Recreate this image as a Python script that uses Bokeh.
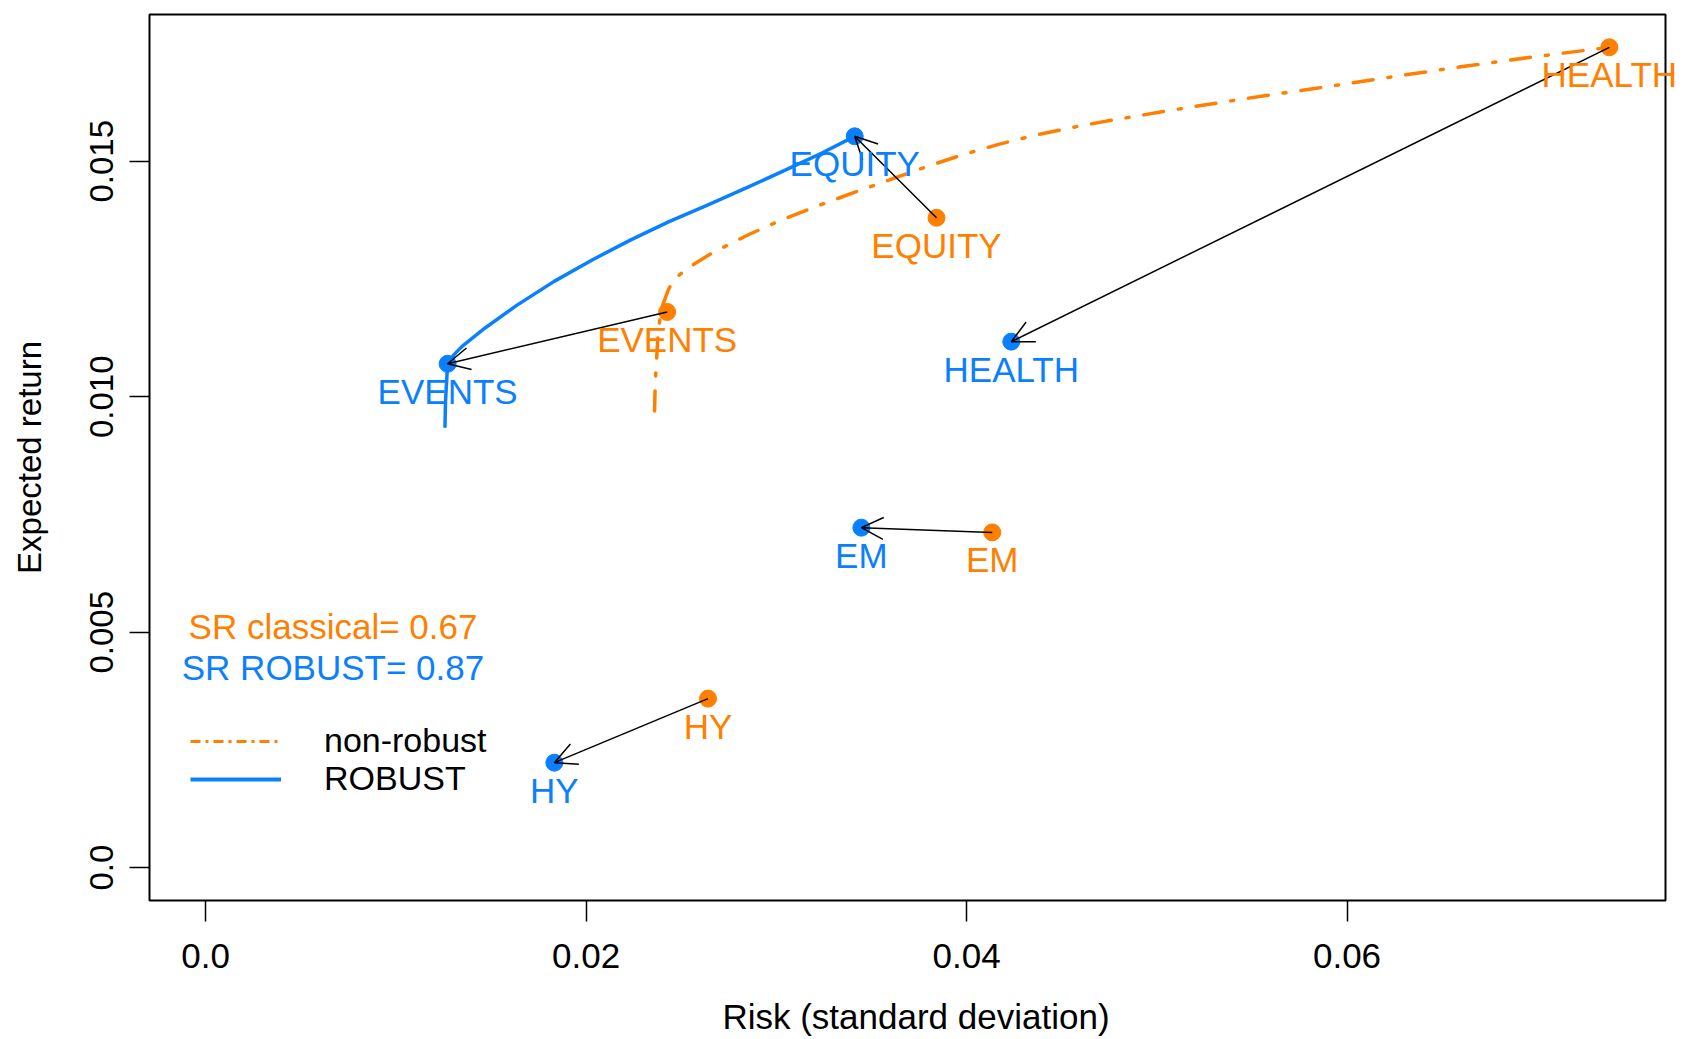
from bokeh.plotting import figure
from bokeh.models import (ColumnDataSource, Range1d, FixedTicker, LabelSet, Label,
                          Arrow, OpenHead, Legend, LegendItem)
from bokeh.core.properties import value
from bokeh.embed import file_html
from bokeh.resources import INLINE

# ---------------- data ----------------
assets = ["EQUITY", "EVENTS", "HEALTH", "EM", "HY"]
sd_classical = [0.03842, 0.02426, 0.07379, 0.04135, 0.02641]
mu_classical = [0.01380, 0.01180, 0.01742, 0.00712, 0.00359]
sd_robust = [0.03412, 0.01272, 0.04235, 0.03447, 0.01833]
mu_robust = [0.01553, 0.01070, 0.01117, 0.00722, 0.00223]

# efficient frontier, classical (non-robust)
front_classical_sd = [0.02360, 0.02363, 0.02370, 0.02377, 0.02386, 0.02404, 0.02430,
                      0.02458, 0.02534, 0.02665, 0.02853, 0.03042, 0.03229, 0.03417,
                      0.03605, 0.03793, 0.03981, 0.04168, 0.04357, 0.04545, 0.04732,
                      0.05086, 0.05463, 0.05838, 0.06214, 0.06589, 0.06966, 0.07379]
front_classical_mu = [0.00970, 0.01027, 0.01076, 0.01125, 0.01160, 0.01196, 0.01225,
                      0.01248, 0.01273, 0.01306, 0.01344, 0.01378, 0.01407, 0.01435,
                      0.01462, 0.01489, 0.01514, 0.01536, 0.01555, 0.01571, 0.01585,
                      0.01609, 0.01633, 0.01655, 0.01678, 0.01700, 0.01721, 0.01742]

# efficient frontier, robust
front_robust_sd = [0.01258, 0.01261, 0.01272, 0.01307, 0.01348, 0.01469, 0.01631, 0.01832,
                   0.02034, 0.02235, 0.02436, 0.02638, 0.02839, 0.03041, 0.03242, 0.03412]
front_robust_mu = [0.00934, 0.00991, 0.01070, 0.01090, 0.01107, 0.01146, 0.01193, 0.01245,
                   0.01291, 0.01333, 0.01372, 0.01407, 0.01443, 0.01480, 0.01518, 0.01553]

x_ticks = [0.0, 0.02, 0.04, 0.06]
x_tick_labels = ["0.0", "0.02", "0.04", "0.06"]
y_ticks = [0.0, 0.005, 0.010, 0.015]
y_tick_labels = ["0.0", "0.005", "0.010", "0.015"]

sr_classical = 0.67
sr_robust = 0.87

# ---------------- styling ----------------
ORANGE = "#FF7F00"
BLUE = "#0A80FF"
FONT = "Liberation Sans"

all_x = sd_classical + sd_robust + front_classical_sd + front_robust_sd
all_y = mu_classical + mu_robust + front_classical_mu + front_robust_mu
xmin, xmax = 0.0, max(all_x)
ymin, ymax = 0.0, max(all_y)
dx, dy = xmax - xmin, ymax - ymin
# plot box limits (4% padding, as in R)
xa, xb = xmin - 0.04 * dx, xmax + 0.04 * dx
ya, yb = ymin - 0.04 * dy, ymax + 0.04 * dy

BOX_W, BOX_H = 1516, 886          # size of the drawn box in px
ppx = BOX_W / (xb - xa)
ppy = BOX_H / (yb - ya)

# frame is a little larger than the box so that labels may overhang on the right
p = figure(width=1684, height=1039, output_backend="svg", toolbar_location=None,
           title=None,
           x_range=Range1d(xa - 2 / ppx, xb + 19 / ppx),
           y_range=Range1d(ya - 2 / ppy, yb + 2 / ppy),
           min_border_left=147, min_border_right=0, min_border_top=12,
           min_border_bottom=137, background_fill_color="white",
           border_fill_color="white")

p.outline_line_color = None
p.grid.visible = False

for ax in (p.xaxis, p.yaxis):
    ax.axis_line_color = None
    ax.major_tick_in = 2
    ax.major_tick_line_width = 1.5
    ax.major_tick_line_color = "black"
    ax.minor_tick_line_color = None
    ax.major_label_text_font = FONT
    ax.major_label_text_color = "black"
    ax.axis_label_text_font = FONT
    ax.axis_label_text_font_style = "normal"
    ax.axis_label_text_color = "black"

p.xaxis.ticker = FixedTicker(ticks=x_ticks)
p.xaxis.major_label_overrides = dict(zip(x_ticks, x_tick_labels))
p.xaxis.major_tick_out = 19
p.xaxis.major_label_text_font_size = "35px"
p.xaxis.major_label_standoff = 22
p.xaxis.axis_label = "Risk (standard deviation)"
p.xaxis.axis_label_text_font_size = "35px"
p.xaxis.axis_label_standoff = 26

p.yaxis.ticker = FixedTicker(ticks=y_ticks)
p.yaxis.major_label_overrides = dict(zip(y_ticks, y_tick_labels))
p.yaxis.major_tick_out = 18
p.yaxis.major_label_orientation = "vertical"
p.yaxis.major_label_text_font_size = "33px"
p.yaxis.major_label_standoff = 16
p.yaxis.axis_label = "Expected return"
p.yaxis.axis_label_text_font_size = "33px"
p.yaxis.axis_label_standoff = 40

# plot box
p.quad(left=[xa], right=[xb], bottom=[ya], top=[yb], fill_color=None,
       line_color="black", line_width=2)

# frontiers
r_classical = p.line(front_classical_sd, front_classical_mu, line_color=ORANGE,
                     line_width=3.5, line_dash="20 15 3 15", line_cap="round")
r_robust = p.line(front_robust_sd, front_robust_mu, line_color=BLUE, line_width=3.5,
                  line_join="round")

# points
p.scatter(sd_classical, mu_classical, size=17, color=ORANGE)
p.scatter(sd_robust, mu_robust, size=17, color=BLUE)

# arrows classical -> robust
arrow_src = ColumnDataSource(dict(xs=sd_classical, ys=mu_classical,
                                  xe=sd_robust, ye=mu_robust))
p.add_layout(Arrow(end=OpenHead(size=22, line_width=1.5, line_color="black"),
                   x_start="xs", y_start="ys", x_end="xe", y_end="ye",
                   source=arrow_src, line_width=1.5, line_color="black"))

# labels
lab_src = ColumnDataSource(dict(
    x=sd_classical + sd_robust,
    y=mu_classical + mu_robust,
    text=assets + assets,
    color=[ORANGE] * len(assets) + [BLUE] * len(assets)))
p.add_layout(LabelSet(x="x", y="y", text="text", source=lab_src,
                      text_color="color", text_font=value(FONT),
                      text_font_size="35px", text_align="center",
                      text_baseline="top", y_offset=-8))

# Sharpe ratio texts
p.add_layout(Label(x=0.006695, y=0.005115, text="SR classical= %.2f" % sr_classical,
                   text_color=ORANGE, text_font=FONT, text_font_size="35px",
                   text_align="center", text_baseline="alphabetic"))
p.add_layout(Label(x=0.006695, y=0.004255, text="SR ROBUST= %.2f" % sr_robust,
                   text_color=BLUE, text_font=FONT, text_font_size="35px",
                   text_align="center", text_baseline="alphabetic"))

# legend swatches (sample styles, no visible data)
nan = float("nan")
leg_c = p.line([nan], [nan], line_color=ORANGE, line_width=3, line_dash="10 5 3 5")
leg_r = p.line([nan], [nan], line_color=BLUE, line_width=4)

legend_kw = dict(border_line_color=None, background_fill_alpha=0, padding=0,
                 margin=0, spacing=0, glyph_width=91, glyph_height=34,
                 label_height=34, label_standoff=43, label_text_font=FONT,
                 label_text_font_size="34px", label_text_color="black")
p.add_layout(Legend(items=[LegendItem(label="non-robust", renderers=[leg_c])],
                    location=(43, 142), **legend_kw))
p.add_layout(Legend(items=[LegendItem(label="ROBUST", renderers=[leg_r])],
                    location=(43, 104), **legend_kw))

open("out.html", "w").write(file_html(p, INLINE))
